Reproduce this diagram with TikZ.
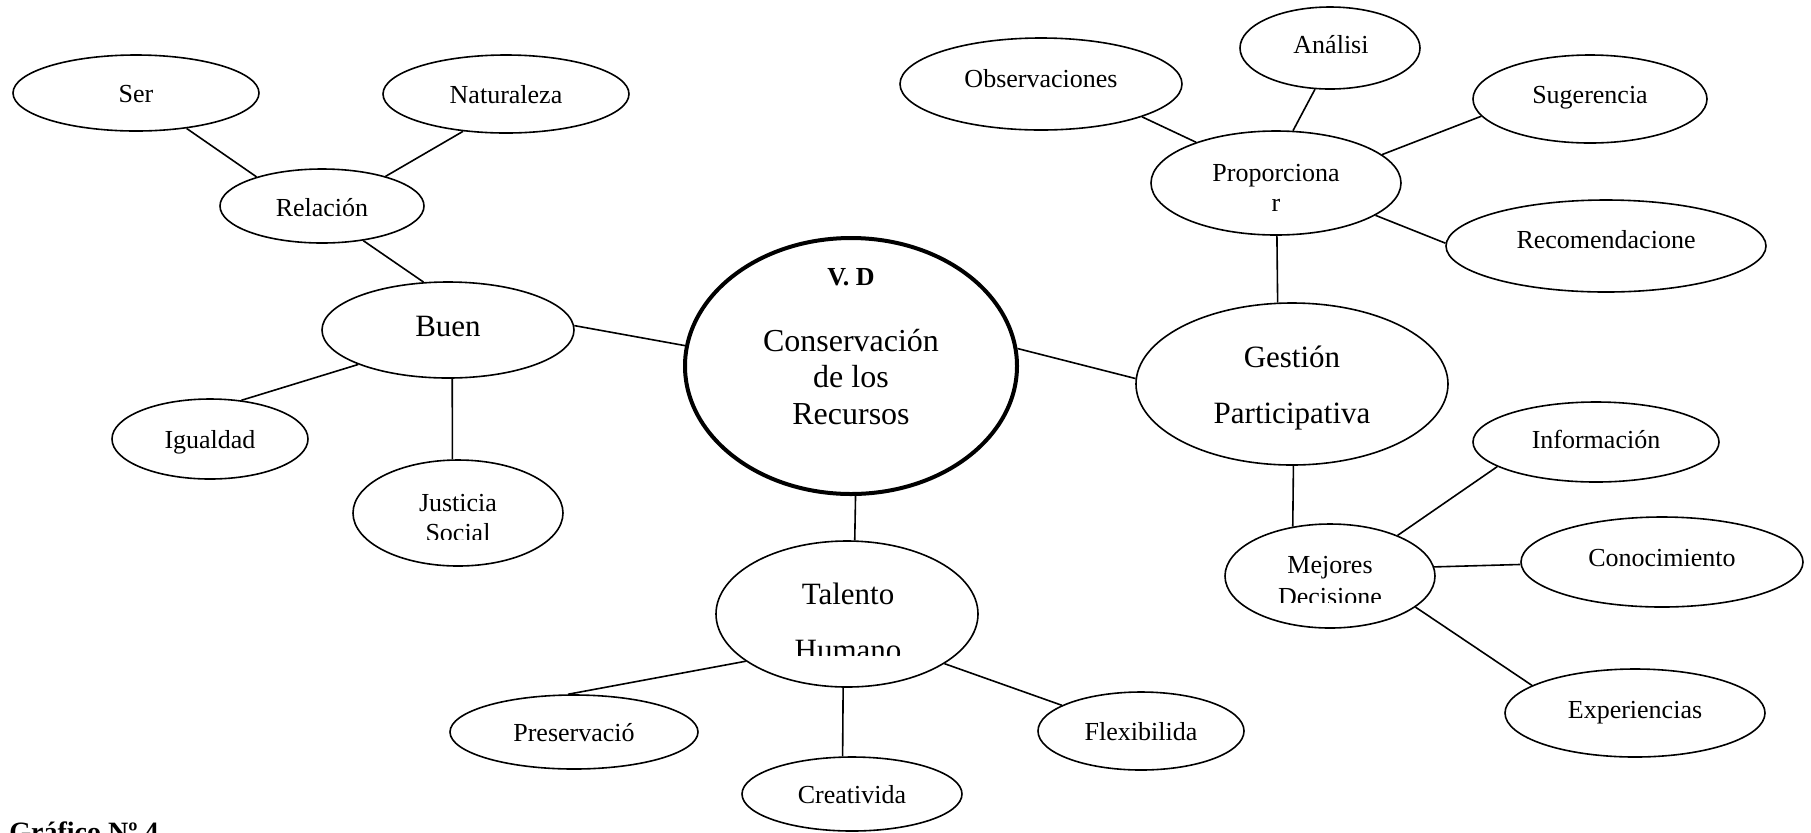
\documentclass[tikz,border=0pt]{standalone}
\usepackage{fontspec}
\setmainfont{Liberation Serif}
\usetikzlibrary{shapes.geometric}
\begin{document}
\begin{tikzpicture}[x=0.5pt,y=-0.5pt,
  ell/.style={ellipse, draw, line width=0.8pt, inner sep=0pt},
  con/.style={line width=0.8pt},
  sm/.style={font=\fontsize{13}{15}\selectfont, anchor=base, inner sep=0pt},
  md/.style={font=\fontsize{15.5}{18}\selectfont, anchor=base, inner sep=0pt},
  lg/.style={font=\fontsize{16}{19}\selectfont, anchor=base, inner sep=0pt},
  vd/.style={font=\fontsize{13}{15}\selectfont\bfseries, anchor=base, inner sep=0pt}]
\useasboundingbox (0,0) rectangle (1811,832);

% ---- ellipses ----
\node[ell, minimum width=123pt, minimum height=38pt] (ser)  at (136,93)  {};
\node[ell, minimum width=123pt, minimum height=39pt] (nat)  at (506,94)  {};
\node[ell, minimum width=102pt, minimum height=37pt] (rel)  at (322,206) {};
\node[ell, minimum width=126pt, minimum height=48pt] (buen) at (448,330) {};
\node[ell, minimum width=98pt,  minimum height=40pt] (igu)  at (210,439) {};
\node[ell, minimum width=105pt, minimum height=53pt] (just) at (458,513) {};
\node[ellipse, draw, line width=2pt, inner sep=0pt, minimum width=166pt, minimum height=128pt] (cen) at (851,366) {};
\node[ell, minimum width=131pt, minimum height=73pt] (tal)  at (847,614) {};
\node[ell, minimum width=124pt, minimum height=37pt] (pres) at (574,732) {};
\node[ell, minimum width=110pt, minimum height=37pt] (crea) at (852,794) {};
\node[ell, minimum width=103pt, minimum height=39pt] (flex) at (1141,731) {};
\node[ell, minimum width=156pt, minimum height=81pt] (gest) at (1292,384) {};
\node[ell, minimum width=105pt, minimum height=52pt] (mej)  at (1330,576) {};
\node[ell, minimum width=123pt, minimum height=40pt] (info) at (1596,442) {};
\node[ell, minimum width=141pt, minimum height=45pt] (cono) at (1662,562) {};
\node[ell, minimum width=130pt, minimum height=44pt] (expe) at (1635,713) {};
\node[ell, minimum width=125pt, minimum height=52pt] (prop) at (1276,183) {};
\node[ell, minimum width=141pt, minimum height=46pt] (obs)  at (1041,84)  {};
\node[ell, minimum width=90pt,  minimum height=41pt] (ana)  at (1330,48)  {};
\node[ell, minimum width=117pt, minimum height=44pt] (sug)  at (1590,99)  {};
\node[ell, minimum width=160pt, minimum height=46pt] (rec)  at (1606,246) {};

% ---- texts ----
\node[sm] (serT)  at (136,102) {Ser};
\node[sm] (natT)  at (506,103) {Naturaleza};
\node[sm] (relT)  at (322,216) {Relación};
\node[md] (buenT) at (448,336) {Buen};
\node[sm] (iguT)  at (210,448) {Igualdad};
\node[sm] (justT) at (458,511) {Justicia};
\begin{scope}
  \clip (350,470) rectangle (570,539);
  \node[sm] (justT2) at (458,541) {Social};
\end{scope}
\node[vd] (cenT0) at (851,285) {V. D};
\node[lg] (cenT1) at (851,351) {Conservación};
\node[lg] (cenT2) at (851,387) {de los};
\node[lg] (cenT3) at (851,424) {Recursos};
\node[md] (talT)  at (848,604) {Talento};
\begin{scope}
  \clip (720,620) rectangle (980,655);
  \node[md] (talT2) at (848,660) {Humano};
\end{scope}
\node[sm] (presT) at (574,741) {Preservació};
\node[sm] (creaT) at (852,803) {Creativida};
\node[sm] (flexT) at (1141,740) {Flexibilida};
\node[md] (gestT) at (1292,367) {Gestión};
\node[md] (gestT2) at (1292,423) {Participativa};
\node[sm] (mejT)  at (1330,573) {Mejores};
\begin{scope}
  \clip (1225,580) rectangle (1435,602);
  \node[sm] (mejT2) at (1330,605) {Decisione};
\end{scope}
\node[sm] (infoT) at (1596,448) {Información};
\node[sm] (conoT) at (1662,566) {Conocimiento};
\node[sm] (expeT) at (1635,718) {Experiencias};
\node[sm] (propT) at (1276,181) {Proporciona};
\node[sm] (propT2) at (1276,211) {r};
\node[sm] (obsT)  at (1041,87)  {Observaciones};
\node[sm] (anaT)  at (1331,53)  {Análisi};
\node[sm] (sugT)  at (1590,103) {Sugerencia};
\node[sm] (recT)  at (1606,248) {Recomendacione};
\node[font=\fontsize{14}{16}\selectfont\bfseries, anchor=base west, inner sep=0pt] (cap) at (9,841) {Gráfico Nº 4};

% ---- connectors ----
\draw[con] (ser.-35)   -- (rel.156);
\draw[con] (nat.221)   -- (rel.25);
\draw[con] (rel.-40)   -- (buen.117);
\draw[con] (buen.2)    -- (cen.173);
\draw[con] (buen.201)  -- (igu.51);
\draw[con] (buen.-85)  -- (just.96);
\draw[con] (cen.-88)   -- (tal.84);
\draw[con] (tal.205)   -- (pres.99);
\draw[con] (tal.-93)   -- (crea.104);
\draw[con] (tal.-27)   -- (flex.162);
\draw[con] (cen.6.5)   -- (gest.178);
\draw[con] (gest.100)  -- (prop.-89.5);
\draw[con] (prop.153)  -- (obs.-18);
\draw[con] (prop.72)   -- (ana.-110.6);
\draw[con] (prop.15.7) -- (sug.189);
\draw[con] (prop.-18.4) -- (rec.179);
\draw[con] (gest.-89.3) -- (mej.127);
\draw[con] (mej.31.6)  -- (info.194);
\draw[con] (mej.5.4)   -- (cono.181.6);
\draw[con] (mej.-20.5) -- (expe.165);
\end{tikzpicture}
\end{document}
